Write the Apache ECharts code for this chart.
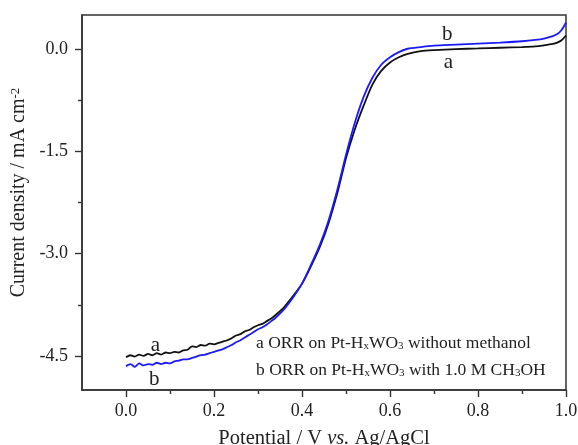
<!DOCTYPE html>
<html>
<head>
<meta charset="utf-8">
<script src="https://cdn.jsdelivr.net/npm/echarts@6/dist/echarts.min.js"></script>
<style>
  html, body { margin: 0; padding: 0; background: #fff; }
  #chart { width: 578px; height: 445px; }
</style>
</head>
<body>
<div id="chart"></div>
<script>
// potential (V vs. Ag/AgCl)
var potential = [
  0.00, 0.01, 0.02, 0.03, 0.04, 0.05, 0.06, 0.07, 0.08, 0.09,
  0.10, 0.11, 0.12, 0.13, 0.14, 0.15, 0.16, 0.17, 0.18, 0.19,
  0.20, 0.21, 0.22, 0.23, 0.24, 0.25, 0.26, 0.27, 0.28, 0.29,
  0.30, 0.31, 0.32, 0.33, 0.34,
  0.36, 0.38, 0.40, 0.42, 0.44, 0.46, 0.48, 0.50, 0.52, 0.54,
  0.56, 0.58, 0.60, 0.62, 0.64,
  0.67, 0.70, 0.75, 0.80, 0.85, 0.90, 0.93, 0.95, 0.97, 0.98, 0.99, 1.00
];
// a: without methanol
var curveA = [
  -4.52, -4.49, -4.51, -4.48, -4.50, -4.47, -4.49, -4.46, -4.48, -4.45,
  -4.46, -4.44, -4.45, -4.42, -4.41, -4.36, -4.37, -4.34, -4.35, -4.32,
  -4.33, -4.31, -4.29, -4.27, -4.24, -4.20, -4.18, -4.14, -4.12, -4.08,
  -4.05, -4.03, -3.99, -3.95, -3.90,
  -3.78, -3.62, -3.44, -3.19, -2.91, -2.56, -2.12, -1.60, -1.18, -0.83,
  -0.52, -0.32, -0.196, -0.12, -0.07,
  -0.03, -0.015, 0.00, 0.01, 0.02, 0.03, 0.04, 0.055, 0.075, 0.095, 0.13, 0.20
];
// b: with 1.0 M CH3OH
var curveB = [
  -4.65, -4.62, -4.66, -4.61, -4.64, -4.62, -4.63, -4.60, -4.62, -4.60,
  -4.61, -4.58, -4.57, -4.55, -4.55, -4.53, -4.51, -4.49, -4.48, -4.46,
  -4.44, -4.42, -4.40, -4.37, -4.34, -4.30, -4.27, -4.23, -4.19, -4.15,
  -4.11, -4.08, -4.04, -3.99, -3.94,
  -3.81, -3.64, -3.44, -3.17, -2.88, -2.52, -2.07, -1.55, -1.08, -0.70,
  -0.42, -0.23, -0.12, -0.045, 0.005,
  0.03, 0.05, 0.065, 0.08, 0.095, 0.115, 0.135, 0.155, 0.19, 0.22, 0.28, 0.39
];
var xMajor = [0, 0.2, 0.4, 0.6, 0.8, 1.0];
var xMinor = [0.1, 0.3, 0.5, 0.7, 0.9];
var yMajor = [0, -1.5, -3.0, -4.5];
var yMinor = [-0.75, -2.25, -3.75];

function pairs(xs, ys) {
  var out = [];
  for (var i = 0; i < xs.length; i++) out.push([xs[i], ys[i]]);
  return out;
}

var serif = 'Liberation Serif';
var axisColor = '#333';

var chart = echarts.init(document.getElementById('chart'));
chart.setOption({
  animation: false,
  grid: {
    left: 82, right: 12, top: 15, bottom: 55,
    outerBoundsMode: 'none', containLabel: false,
    show: true, borderColor: axisColor, borderWidth: 1.5
  },
  xAxis: [{
    type: 'value', min: -0.1, max: 1.0,
    name: 'Potential / V {i|vs.} Ag/AgCl',
    nameLocation: 'middle', nameGap: 38,
    nameTextStyle: {
      fontFamily: serif, fontSize: 20.5, color: '#222',
      rich: { i: { fontFamily: serif, fontSize: 20.5, fontStyle: 'italic', color: '#222' } }
    },
    axisLine: { onZero: false, lineStyle: { color: axisColor, width: 1.5 } },
    axisTick: { show: true, length: 7, customValues: xMajor, lineStyle: { color: axisColor, width: 1.4 } },
    axisLabel: {
      customValues: xMajor, margin: 12,
      fontFamily: serif, fontSize: 18, color: '#222',
      formatter: function (v) { return v.toFixed(1); }
    },
    splitLine: { show: false }
  }, {
    type: 'value', min: -0.1, max: 1.0, position: 'bottom',
    axisLine: { show: false, onZero: false },
    axisTick: { show: true, length: 4, customValues: xMinor, lineStyle: { color: axisColor, width: 1.4 } },
    axisLabel: { show: false },
    splitLine: { show: false }
  }],
  yAxis: [{
    type: 'value', min: -5.0, max: 0.5,
    name: 'Current density / mA cm{s|-2}',
    nameLocation: 'middle', nameGap: 48,
    nameTextStyle: {
      fontFamily: serif, fontSize: 20, color: '#222',
      padding: [0, 0, 0, 20],
      rich: { s: { fontFamily: serif, fontSize: 13, color: '#222', verticalAlign: 'top', lineHeight: 6 } }
    },
    axisLine: { onZero: false, lineStyle: { color: axisColor, width: 1.5 } },
    axisTick: { show: true, length: 7, customValues: yMajor, lineStyle: { color: axisColor, width: 1.4 } },
    axisLabel: {
      customValues: yMajor, margin: 14,
      fontFamily: serif, fontSize: 18, color: '#222',
      formatter: function (v) { return v.toFixed(1); }
    },
    splitLine: { show: false }
  }, {
    type: 'value', min: -5.0, max: 0.5, position: 'left',
    axisLine: { show: false, onZero: false },
    axisTick: { show: true, length: 4, customValues: yMinor, lineStyle: { color: axisColor, width: 1.4 } },
    axisLabel: { show: false },
    splitLine: { show: false }
  }],
  series: [{
    name: 'a', type: 'line', data: pairs(potential, curveA),
    showSymbol: false, smooth: 0.25,
    lineStyle: { color: '#111', width: 1.8 },
    markPoint: {
      symbol: 'circle', symbolSize: 0,
      label: { show: true, position: 'inside', fontFamily: serif, fontSize: 21, color: '#222', formatter: '{b}' },
      data: [{ name: 'a', coord: [0.067, -4.35] }, { name: 'a', coord: [0.733, -0.19] }]
    }
  }, {
    name: 'b', type: 'line', data: pairs(potential, curveB),
    showSymbol: false, smooth: 0.25,
    lineStyle: { color: '#1a1aff', width: 1.8 },
    markPoint: {
      symbol: 'circle', symbolSize: 0,
      label: { show: true, position: 'inside', fontFamily: serif, fontSize: 21, color: '#222', formatter: '{b}' },
      data: [{ name: 'b', coord: [0.064, -4.85] }, { name: 'b', coord: [0.73, 0.21] }]
    }
  }],
  graphic: [{
    type: 'text', left: 256, top: 334,
    style: {
      text: 'a ORR on Pt-H{sub|x}WO{sub|3} without methanol',
      font: '17.5px "Liberation Serif"', fill: '#222',
      rich: { sub: { font: '11px "Liberation Serif"', fill: '#222', verticalAlign: 'bottom', lineHeight: 4 } }
    }
  }, {
    type: 'text', left: 256, top: 361,
    style: {
      text: 'b ORR on Pt-H{sub|x}WO{sub|3} with 1.0 M CH{sub|3}OH',
      font: '17.5px "Liberation Serif"', fill: '#222',
      rich: { sub: { font: '11px "Liberation Serif"', fill: '#222', verticalAlign: 'bottom', lineHeight: 4 } }
    }
  }]
});
</script>
</body>
</html>
